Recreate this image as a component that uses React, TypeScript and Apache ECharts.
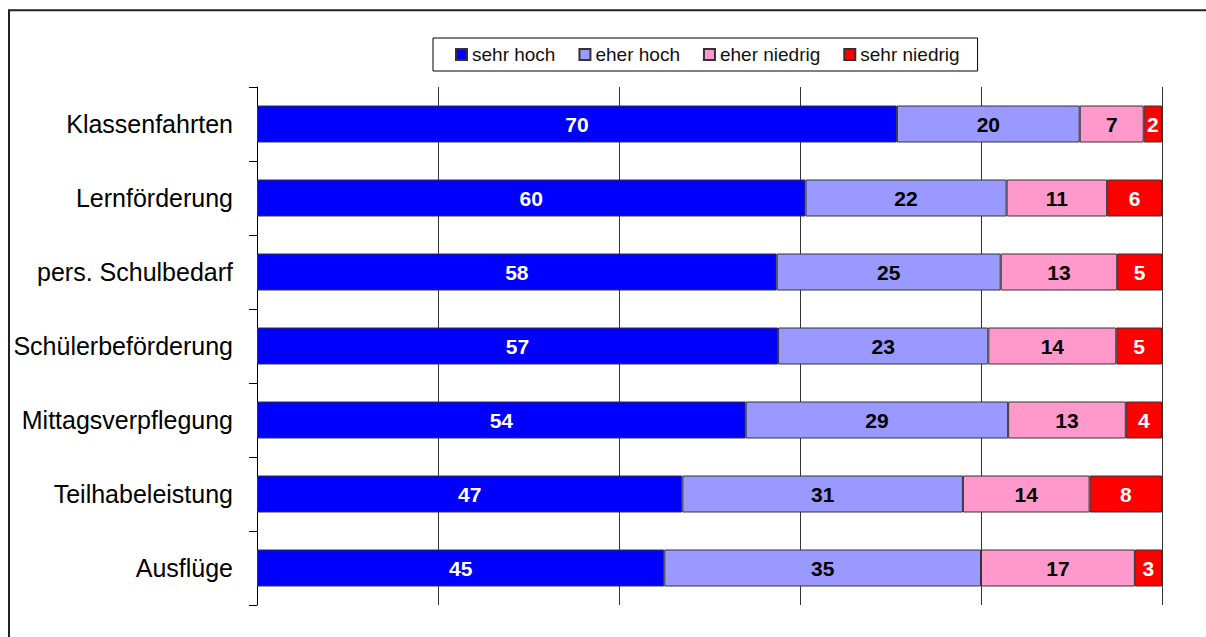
import React, { useEffect, useRef } from "react";
import * as echarts from "echarts";

const categories = [
  "Klassenfahrten",
  "Lernförderung",
  "pers. Schulbedarf",
  "Schülerbeförderung",
  "Mittagsverpflegung",
  "Teilhabeleistung",
  "Ausflüge",
];
const seriesNames = ["sehr hoch", "eher hoch", "eher niedrig", "sehr niedrig"];
const sehrHoch = [70, 60, 58, 57, 54, 47, 45];
const eherHoch = [20, 22, 25, 23, 29, 31, 35];
const eherNiedrig = [7, 11, 13, 14, 13, 14, 17];
const sehrNiedrig = [2, 6, 5, 5, 4, 8, 3];
const xTicks = [0, 20, 40, 60, 80, 100];

const colors = ["#0000FF", "#9999FF", "#FF99CC", "#FF0000"];
const labelColors = ["#FFFFFF", "#000000", "#000000", "#FFFFFF"];
const FONT = "'Liberation Sans', Arial, sans-serif";

export default function App() {
  const ref = useRef<HTMLDivElement>(null);
  useEffect(() => {
    if (!ref.current) return;
    const chart = echarts.init(ref.current, null, { renderer: "svg" });
    const raw = [sehrHoch, eherHoch, eherNiedrig, sehrNiedrig];
    const totals = categories.map((_, i) => raw.reduce((s, arr) => s + arr[i], 0));
    const series = raw.map((arr, si) => ({
      name: seriesNames[si],
      type: "bar",
      stack: "total",
      barWidth: "50%",
      itemStyle: { color: colors[si], borderColor: "#333", borderWidth: 1 },
      label: {
        show: true,
        position: "inside",
        color: labelColors[si],
        fontFamily: FONT,
        fontWeight: "bold",
        fontSize: 21,
        formatter: (p: any) => String(arr[p.dataIndex]),
      },
      data: arr.map((v, i) => (v * 100) / totals[i]),
    }));
    chart.setOption({
      animation: false,
      textStyle: { fontFamily: FONT },
      graphic: [
        {
          type: "rect",
          shape: { x: 1, y: 2.3, width: 1400, height: 1000 },
          style: { fill: "none", stroke: "#222", lineWidth: 2 },
          silent: true,
          z: -1,
        },
      ],
      legend: {
        left: 425,
        top: 30,
        padding: [7, 18, 7, 22],
        borderColor: "#000",
        borderWidth: 1,
        itemWidth: 11,
        itemHeight: 11,
        itemGap: 23,
        icon: "rect",
        textStyle: { fontFamily: FONT, fontSize: 19, color: "#111" },
        data: seriesNames,
      },
      grid: { left: 249, right: 44, top: 79, bottom: 32, containLabel: false },
      xAxis: {
        type: "value",
        min: xTicks[0],
        max: xTicks[xTicks.length - 1],
        interval: xTicks[1] - xTicks[0],
        axisLine: { show: false },
        axisTick: { show: false },
        axisLabel: { show: false },
        splitLine: { show: true, lineStyle: { color: "#333", width: 1 } },
      },
      yAxis: {
        type: "category",
        inverse: true,
        data: categories,
        axisLine: { show: true, lineStyle: { color: "#000", width: 1 } },
        axisTick: { show: true, length: 8, lineStyle: { color: "#000" } },
        axisLabel: { margin: 24, fontFamily: FONT, fontSize: 25, color: "#000" },
      },
      series,
    });
    return () => chart.dispose();
  }, []);
  return (
    <div
      ref={ref}
      style={{ position: "absolute", left: 8, top: 8, width: 1198, height: 629 }}
    />
  );
}
